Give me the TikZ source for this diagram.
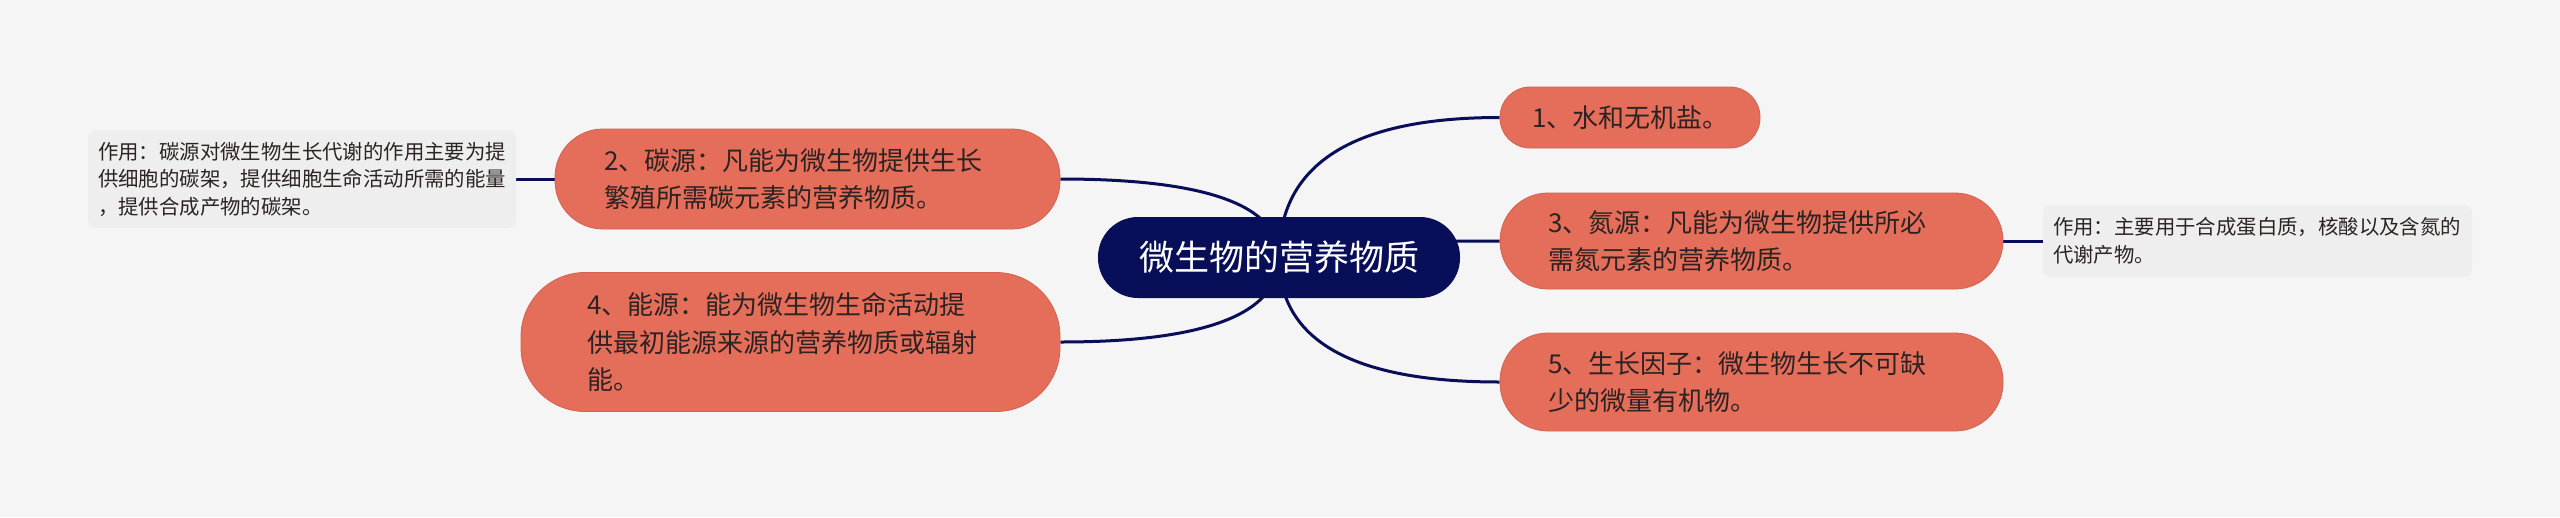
\documentclass[tikz,border=0pt]{standalone}
\usepackage{fontspec}
\newfontfamily\cjk{Noto Sans CJK SC}
\usetikzlibrary{calc}
\definecolor{canvas}{RGB}{245,245,245}
\definecolor{topicfill}{RGB}{228,110,90}
\definecolor{topicedge}{RGB}{212,98,80}
\definecolor{rootnavy}{RGB}{8,14,88}
\definecolor{notefill}{RGB}{238,238,238}
\definecolor{inktext}{RGB}{45,35,35}
\pgfdeclarelayer{lines}
\pgfsetlayers{lines,main}

\begin{document}
\begin{tikzpicture}[x=1pt, y=-1pt,
    topic/.style={fill=topicfill, draw=topicedge, line width=0.8pt, text=inktext, align=left,
                  font=\cjk\fontsize{26}{37.5}\selectfont, inner ysep=0pt},
    note/.style={fill=notefill, rounded corners=8pt, text=inktext, align=left,
                 font=\cjk\fontsize{20.4}{27.5}\selectfont, inner xsep=10pt, inner ysep=0pt},
    branch/.style={draw=rootnavy, line width=3pt}]
  % A branch from the root to a topic: #1 = start, #2 = end.
  % Quadratic curve with its control point at (x of #1, y of #2), written as a cubic.
  \newcommand{\mapbranch}[2]{%
    \draw[branch] (#1) .. controls ($(#1)!0.667!(#1 |- #2)$) and ($(#2)!0.667!(#1 |- #2)$) .. (#2);}

  \useasboundingbox (0,0) rectangle (2560,517);
  \begin{pgfonlayer}{lines}
    \fill[canvas] (0,0) rectangle (2560,517);
  \end{pgfonlayer}

  \node[fill=rootnavy, text=white, rounded corners=40pt, minimum width=362pt, minimum height=81pt,
        font=\cjk\fontsize{35}{42}\selectfont] (root) at (1279,257.5) {微生物的营养物质};

  % right side
  \node[topic, rounded corners=30pt, text width=196pt, inner xsep=32pt, minimum height=61pt]
    (water) at (1630,117.5) {1、水和无机盐。};
  \node[topic, rounded corners=48pt, text width=407pt, inner xsep=48pt, minimum height=96pt]
    (nitrogen) at (1751.5,241) {3、氮源：凡能为微生物提供所必\\需氮元素的营养物质。};
  \node[topic, rounded corners=48pt, text width=407pt, inner xsep=48pt, minimum height=98pt]
    (growth) at (1751.5,382) {5、生长因子：微生物生长不可缺\\少的微量有机物。};
  \node[note, text width=409pt, minimum height=72pt] (nitrogennote) at (2257.5,241)
    {作用：主要用于合成蛋白质，核酸以及含氮的\\代谢产物。};

  % left side
  \node[topic, rounded corners=48pt, text width=407pt, inner xsep=49pt, minimum height=100pt]
    (carbon) at (807.5,179) {2、碳源：凡能为微生物提供生长\\繁殖所需碳元素的营养物质。};
  \node[topic, rounded corners=64pt, text width=407pt, inner xsep=66pt, minimum height=139pt]
    (energy) at (790.5,342) {4、能源：能为微生物生命活动提\\供最初能源来源的营养物质或辐射\\能。};
  \node[note, text width=408pt, minimum height=98pt] (carbonnote) at (302,179)
    {作用：碳源对微生物生长代谢的作用主要为提\\供细胞的碳架，提供细胞生命活动所需的能量\\，提供合成产物的碳架。};

  \begin{pgfonlayer}{lines}
    \mapbranch{root.center}{water.west}
    \mapbranch{root.center}{nitrogen.west}
    \mapbranch{root.center}{growth.west}
    \mapbranch{root.center}{carbon.east}
    \mapbranch{root.center}{energy.east}
    \draw[branch] (carbon.west) -- (carbonnote.east);
    \draw[branch] (nitrogen.east) -- (nitrogennote.west);
  \end{pgfonlayer}
\end{tikzpicture}
\end{document}
